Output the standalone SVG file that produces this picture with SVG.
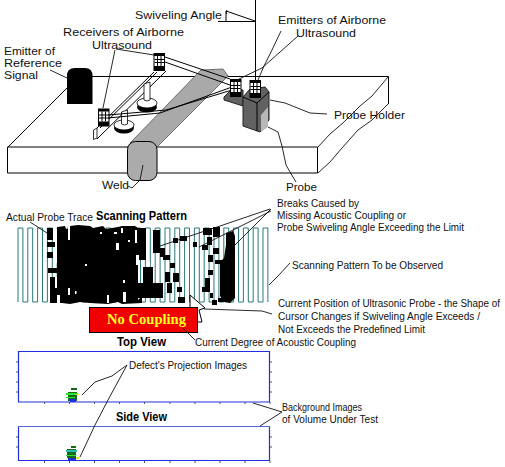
<svg xmlns="http://www.w3.org/2000/svg" width="505" height="467" viewBox="0 0 505 467">
<style>
text{font-family:"Liberation Sans",Arial,sans-serif;font-size:11px;fill:#111}
.s{font-size:10.500px}
.n{font-size:10px}
.b{font-weight:bold;font-size:12px;fill:#000}
.l{fill:none;stroke:#000;stroke-width:1}
.t{fill:none;stroke:#111;stroke-width:.9}
.k{fill:#000}
.w{fill:#fff}
.c{fill:#fff;stroke:#000;stroke-width:.8}
.h{fill:#626262;stroke:#222;stroke-width:1}
</style>
<defs>
<g id="tr">
<rect x="0" y="0" width="11.500" height="18" class="k"/>
<rect x="1" y="3" width="9.500" height="10" class="w"/>
<path d="M4 3v10M7.500 3v10M1 6.500h9.500M1 9.500h9.500" stroke="#000" stroke-width="1"/>
</g>
</defs>
<rect width="505" height="467" fill="#fff"/>
<g id="workpiece">
<path class="l" d="M92 76.500H388.500V104M7.500 147H317.500V173H7.500ZM8 147 68 87"/>
<path class="t" d="M388 77 372 96 360 106 344 122 330 134 318 147M388 104 372 120 358 130 342 148 330 162 318 173"/>
</g>
<g id="weld">
<path d="M130 143 201 70 223 69 228 76 157 147Z" fill="#a9a9a9" stroke="#555" stroke-width=".8"/>
<rect x="127.500" y="141.500" width="29.500" height="39" rx="8" fill="#ababab" stroke="#000"/>
</g>
<g id="reference-emitter">
<path class="k" d="M67 104V76Q67 68 75 68H85Q92.500 68 92.500 76V104Z"/>
</g>
<g id="receivers">
<path class="c" d="M93.500 130 97 128V138L93.500 139.500Z"/>
<path class="l" d="M97 128 154 72M100 128 157 72M97 139 166 71"/>
<ellipse cx="147" cy="107" rx="10" ry="5.500" class="k"/>
<ellipse cx="147" cy="103" rx="10" ry="5" class="c"/>
<path class="c" d="M144 100V84L150 82V100Q147 102 144 100Z"/>
<ellipse cx="124" cy="128" rx="10" ry="5.500" class="k"/>
<ellipse cx="124" cy="125" rx="10" ry="5" class="c"/>
<path class="c" d="M121.500 124V112L127.500 110V124Q124.500 126 121.500 124Z"/>
<use href="#tr" x="153.500" y="53"/>
<use href="#tr" x="98" y="108.500"/>
</g>
<g id="beams">
<path class="l" stroke-width=".8" d="M165 57 230 79M165 62 230 85M108 115 166 110 232 90M108 118 160 113 232 87"/>
</g>
<g id="probe-holder">
<path class="h" d="M224 97 231 90 243 90 243 106 224 100Z"/>
<path class="h" d="M243 97 250 89 265 87 269 92 269 120 260 132 243 126Z"/>
<path class="l" d="M243 97 257 103 269 92M257 103V131"/>
<path d="M261 115 268 107V127L261 132Z" fill="#b8b8b8"/>
<use href="#tr" x="230" y="79"/>
<use href="#tr" x="249.500" y="80"/>
</g>
<g id="swivel">
<path class="l" d="M255.500 0V80M218 21.500H255M227 10Q225 13 227 14M226 21V11L255 21"/>
</g>
<g id="scan">
<path d="M18 302V228
h4.900V302h4.900V228h4.900V302h4.900V228h4.900V302h4.900V228h4.900V302h4.900V228h4.900V302h4.900V228
h4.900V302h4.900V228h4.900V302h4.900V228h4.900V302h4.900V228h4.900V302h4.900V228h4.900V302h4.900V228
h4.900V302h4.900V228h4.900V302h4.900V228h4.900V302h4.900V228h4.900V302h4.900V228h4.900V302h4.900V228
h4.900V302h4.900V228h4.900V302h4.900V228h4.900V302h4.900V228h4.900V302h4.900V228h4.900V302h4.900V228
h4.900V302h4.900V228h4.900V302h4.900V228h4.900V302h4.900V228h4.900V302h4.900V228h4.900V302h4.900V228
h4.900V302" fill="none" stroke="#2a7a78" stroke-width="1"/>
<path class="k" d="M57 227 65 226 66 229H69L70 226 78 225 90 226 93 228 103 226 106 229 118 227 122 226 135 226 138 228 138 300 142 296 142 303 122 304 118 302 108 304 90 303 80 302 70 304 62 303 57 303Z"/>
<path class="k" d="M47 228h6v12h-6zM47 242h8v5h-8zM47 252h6v6h-6zM48 268h9v5h-9zM50 277h7v26h-7zM137 228h9v32h-9zM153 230h7v23h-7zM160 248h5v9h-5zM143 267h10v23h-10zM138 283h25v15h-25zM157 292h6v6h-6zM163 255h7v5h-7zM170 263h5v5h-5zM173 273h6v9h-6zM167 283h5v10h-5zM177 287h5v5h-5zM178 297h7v6h-7zM165 272h5v10h-5zM180 236h7v5h-7zM173 238h5v5h-5zM193 242h4v5h-4zM203 228h9v7h-9zM213 227h7v10h-7zM207 237h5v8h-5zM202 245h6v5h-6zM213 248h6v6h-6zM208 255h5v7h-5zM215 260h8v4h-8zM208 270h5v5h-5zM205 278h5v14h-5zM202 287h6v5h-6zM210 293h3v5h-3zM212 300h5v5h-5zM218 298h7v4h-7z"/>
<path class="k" d="M226 233 233 231 235 236V298L230 303 224 302 220 296 220 262 224 258 226 245Z"/>
<path class="w" d="M55 229h2v34h-2zM55 277h2v11h-2zM68 226h2v14h-2zM68 288h2v7h-2zM75 291h1.500v3h-1.500zM57 295h3v8h-3zM85 264h2v2h-2zM100 232h2v2h-2zM116 243h3v7h-3zM121 228h2v5h-2zM135 230h2v13h-2zM123 280h2v3h-2zM107 295h2v8h-2zM123 292h3v10h-3zM136 255h3v10h-3zM128 240h2v2h-2zM114 232h3v2h-3zM146 240h2v6h-2zM148 262h2v4h-2zM151 232h2v28h-2z"/>
</g>
<g id="cursor">
<path d="M190 295 205 308 199 310 202 322 197 322 195 312 190 317Z" fill="#fff" stroke="#000" stroke-width="1"/>
</g>
<g id="no-coupling">
<rect x="89.500" y="307.500" width="108" height="25" fill="#f00000" stroke="#000"/>
<text x="107" y="323.500" textLength="79" lengthAdjust="spacingAndGlyphs" style="font-family:'Liberation Serif',serif;font-weight:bold;font-size:15px;fill:#ffff20">No Coupling</text>
</g>
<g id="top-view">
<path d="M18.500 351.500H269.500V402H18.500Z" fill="none" stroke="#2030e0" stroke-width="1.200"/>
<path d="M44.500 402v2M69.500 402v2M94.500 402v2M119.500 402v2M144.500 402v2M170 402v2M195 402v2M220 402v2M245 402v2M270 402v2M270 362h2M270 372h2M270 382h2M270 392h2M18 362h-2M18 372h-2M18 382h-2M18 392h-2" stroke="#555" fill="none"/>
<path d="M71 388h6v2h-6zM68 392h9v9h-9z" fill="#146b14"/>
<path d="M66 393h12v2h-12zM66 397h9v1h-9z" fill="#30e030"/>
<path d="M70 399h6v3h-6z" fill="#2030e0"/>
<path d="M76 394h3v1h-3z" fill="#e8e820"/>
</g>
<g id="side-view">
<path d="M18.500 426.500H269.500" fill="none" stroke="#5565e0" stroke-width="1.200"/>
<path d="M18.500 426.500V460.500H269.500V426.500" fill="none" stroke="#2030e0" stroke-width="1.200"/>
<path d="M44.500 461v2M69.500 461v2M94.500 461v2M119.500 461v2M144.500 461v2M170 461v2M195 461v2M220 461v2M245 461v2M270 461v2M270 437h2M270 447h2M18 437h-2M18 447h-2" stroke="#555" fill="none"/>
<path d="M71 446h5v2h-5zM67 449h9v9h-9z" fill="#146b14"/>
<path d="M66 450h11v2h-11z" fill="#28b8b8"/>
<path d="M66 455h10v1h-10z" fill="#30e030"/>
<path d="M68 458h8v3h-8z" fill="#2030e0"/>
<path d="M76 457h3v2h-3z" fill="#e8e820"/>
</g>
<g id="connectors">
<path class="t" d="M115 50 103 108M116 49 154 55M50 70 67 78M143 165 140 180 132 188 128 186M298 36 280 52 262 68 239 79M281 31 272 50 264 66 258 80M270 100 285 103 310 113 327 114M268 127 278 132 282 146 286 165 290 172 296 182M30 222 47 233M160 246 220 226 270 209M199 247 271 211M235 245 250 230 271 209M269 285 278 276 290 263M204 309 262 311 272 314M183 328 195 340M82 395 95 382 112 376 127 365M80 457 95 425 108 400 127 365M253 403 282 412M260 426 282 412"/>
</g>
<g id="labels">
<text x="135" y="19" textLength="87" lengthAdjust="spacingAndGlyphs">Swiveling Angle</text>
<text x="63" y="36" textLength="121" lengthAdjust="spacingAndGlyphs">Receivers of Airborne</text>
<text x="92" y="49" textLength="60" lengthAdjust="spacingAndGlyphs">Ultrasound</text>
<text x="4" y="55" textLength="51" lengthAdjust="spacingAndGlyphs" class="s">Emitter of</text>
<text x="4" y="67" textLength="58" lengthAdjust="spacingAndGlyphs" class="s">Reference</text>
<text x="4" y="79" textLength="34" lengthAdjust="spacingAndGlyphs" class="s">Signal</text>
<text x="278" y="24" textLength="108" lengthAdjust="spacingAndGlyphs">Emitters of Airborne</text>
<text x="296" y="37" textLength="60" lengthAdjust="spacingAndGlyphs">Ultrasound</text>
<text x="334" y="119" textLength="71" lengthAdjust="spacingAndGlyphs">Probe Holder</text>
<text x="286" y="191" textLength="31" lengthAdjust="spacingAndGlyphs">Probe</text>
<text x="102" y="189" textLength="27" lengthAdjust="spacingAndGlyphs">Weld</text>
<text x="6" y="221" textLength="87" lengthAdjust="spacingAndGlyphs" class="s">Actual Probe Trace</text>
<text x="96" y="220" textLength="91" lengthAdjust="spacingAndGlyphs" class="b">Scanning Pattern</text>
<text x="277" y="207" textLength="82" lengthAdjust="spacingAndGlyphs" class="s">Breaks Caused by</text>
<text x="277" y="219" textLength="129" lengthAdjust="spacingAndGlyphs" class="s">Missing Acoustic Coupling or</text>
<text x="277" y="231" textLength="187" lengthAdjust="spacingAndGlyphs" class="s">Probe Swiveling Angle Exceeding the Limit</text>
<text x="292" y="269" textLength="151" lengthAdjust="spacingAndGlyphs">Scanning Pattern To be Observed</text>
<text x="278" y="307" textLength="222" lengthAdjust="spacingAndGlyphs" class="n">Current Position of Ultrasonic Probe - the Shape of</text>
<text x="278" y="320" textLength="202" lengthAdjust="spacingAndGlyphs">Cursor  Changes if Swiveling Angle Exceeds /</text>
<text x="278" y="333" textLength="147" lengthAdjust="spacingAndGlyphs">Not Exceeds the Predefined Limit</text>
<text x="195" y="346" textLength="161" lengthAdjust="spacingAndGlyphs">Current Degree of Acoustic Coupling</text>
<text x="117" y="346" textLength="49" lengthAdjust="spacingAndGlyphs" class="b">Top View</text>
<text x="116" y="421" textLength="51" lengthAdjust="spacingAndGlyphs" class="b">Side View</text>
<text x="129" y="369" textLength="118" lengthAdjust="spacingAndGlyphs" class="s">Defect's Projection Images</text>
<text x="282" y="411" textLength="80" lengthAdjust="spacingAndGlyphs" class="s">Background Images</text>
<text x="282" y="423" textLength="96" lengthAdjust="spacingAndGlyphs" class="s">of Volume Under Test</text>
</g>
</svg>
